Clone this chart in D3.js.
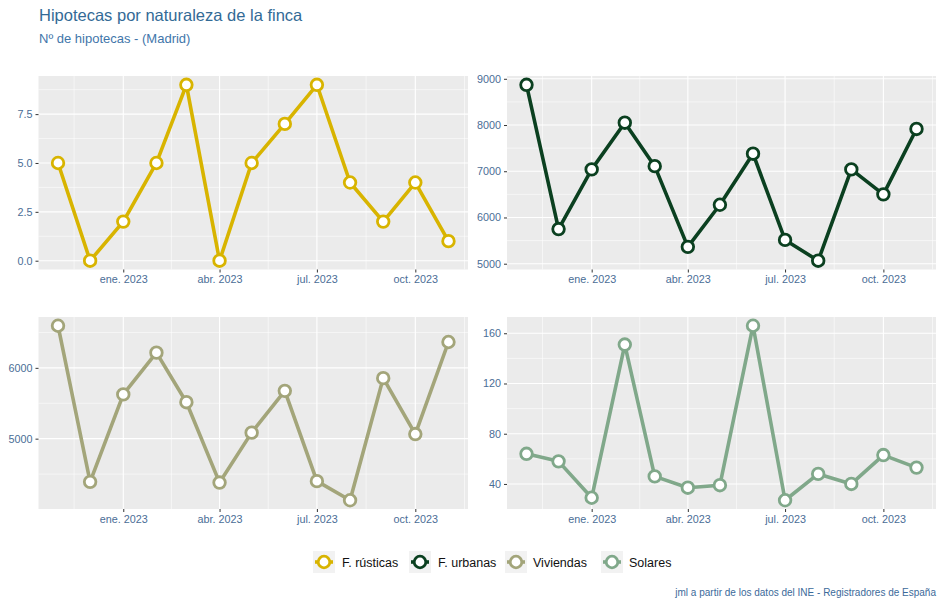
<!DOCTYPE html>
<html><head><meta charset="utf-8">
<script src="https://cdn.jsdelivr.net/npm/d3@7"></script>
<style>body{margin:0;background:#fff;} svg{display:block;font-family:"Liberation Sans",Arial,sans-serif;}</style>
</head><body>
<svg id="c" width="944" height="607"></svg>
<script>
const months = ["2022-11-01","2022-12-01","2023-01-01","2023-02-01","2023-03-01","2023-04-01","2023-05-01","2023-06-01","2023-07-01","2023-08-01","2023-09-01","2023-10-01","2023-11-01"];
const rusticas = [5,0,2,5,9,0,5,7,9,4,2,4,1];
const urbanas  = [8870,5750,7040,8050,7110,5365,6275,7380,5515,5065,7040,6500,7915];
const viviendas= [6595,4390,5625,6215,5515,4380,5085,5675,4400,4130,5855,5065,6365];
const solares  = [64,58,29,151,46,37,39,166,27,48,40,63,53];
const seriesNames = ["F. rústicas","F. urbanas","Viviendas","Solares"];
const seriesColors = ["#d8b400","#0b4020","#a3a57a","#80a88a"];
const xTickDates = ["2023-01-01","2023-04-01","2023-07-01","2023-10-01"];
const xTickLabels = ["ene. 2023","abr. 2023","jul. 2023","oct. 2023"];
const yMajor = [[0,2.5,5,7.5],[5000,6000,7000,8000,9000],[5000,6000],[40,80,120,160]];
const yLabels = [["0.0","2.5","5.0","7.5"],["5000","6000","7000","8000","9000"],["5000","6000"],["40","80","120","160"]];
const yMinor = [[1.25,3.75,6.25,8.75],[5500,6500,7500,8500],[4500,5500,6500],[60,100,140]];

const parse = d3.utcParse("%Y-%m-%d");
const dates = months.map(parse);
const data = [rusticas, urbanas, viviendas, solares];
const svg = d3.select("#c");

const panels = [
  {x0:38.5,x1:468,y0:76,y1:269.5},
  {x0:507,x1:936,y0:76,y1:269.5},
  {x0:38.5,x1:468,y0:317,y1:509},
  {x0:507,x1:936,y0:317,y1:509}
];
const tickColor = "#4a6d96";

// title
svg.append("text").attr("x",39).attr("y",21).attr("font-size",16.5).attr("fill","#336a96").text("Hipotecas por naturaleza de la finca");
svg.append("text").attr("x",39).attr("y",43).attr("font-size",13).attr("fill","#3f76aa").text("Nº de hipotecas - (Madrid)");

const t0 = dates[0].getTime(), t1 = dates[dates.length-1].getTime();
const padT = (t1-t0)*0.05;

panels.forEach((p,i)=>{
  const vals = data[i];
  const mn = d3.min(vals), mx = d3.max(vals), pad=(mx-mn)*0.05;
  const x = d3.scaleUtc().domain([new Date(t0-padT), new Date(t1+padT)]).range([p.x0,p.x1]);
  const y = d3.scaleLinear().domain([mn-pad, mx+pad]).range([p.y1,p.y0]);
  const g = svg.append("g");
  g.append("rect").attr("x",p.x0).attr("y",p.y0).attr("width",p.x1-p.x0).attr("height",p.y1-p.y0).attr("fill","#ebebeb");
  // minor x grid: midpoints of quarters
  const majorX = xTickDates.map(parse);
  const ext = [parse("2022-10-01"), ...majorX, parse("2024-01-01")];
  const minorX = [];
  for(let k=0;k<ext.length-1;k++) minorX.push(new Date((ext[k].getTime()+ext[k+1].getTime())/2));
  const clip = g.append("g");
  minorX.filter(d=>x(d)>p.x0 && x(d)<p.x1).forEach(d=>{
    clip.append("line").attr("x1",x(d)).attr("x2",x(d)).attr("y1",p.y0).attr("y2",p.y1).attr("stroke","#fff").attr("stroke-width",0.55);
  });
  yMinor[i].filter(v=>y(v)>p.y0 && y(v)<p.y1).forEach(v=>{
    clip.append("line").attr("x1",p.x0).attr("x2",p.x1).attr("y1",y(v)).attr("y2",y(v)).attr("stroke","#fff").attr("stroke-width",0.55);
  });
  majorX.forEach(d=>{
    clip.append("line").attr("x1",x(d)).attr("x2",x(d)).attr("y1",p.y0).attr("y2",p.y1).attr("stroke","#fff").attr("stroke-width",1.1);
  });
  yMajor[i].forEach(v=>{
    clip.append("line").attr("x1",p.x0).attr("x2",p.x1).attr("y1",y(v)).attr("y2",y(v)).attr("stroke","#fff").attr("stroke-width",1.1);
  });
  // axes
  const xa = d3.axisBottom(x).tickValues(majorX).tickFormat((d,k)=>xTickLabels[k]).tickSize(3).tickPadding(3);
  const xg = g.append("g").attr("transform",`translate(0,${p.y1})`).call(xa);
  xg.select(".domain").remove();
  xg.selectAll("line").attr("stroke","#333").attr("stroke-width",1);
  xg.selectAll("text").attr("fill",tickColor).attr("font-size",10.8).attr("font-family","Liberation Sans, Arial, sans-serif");
  const ya = d3.axisLeft(y).tickValues(yMajor[i]).tickFormat((d,k)=>yLabels[i][k]).tickSize(3).tickPadding(3);
  const yg = g.append("g").attr("transform",`translate(${p.x0},0)`).call(ya);
  yg.select(".domain").remove();
  yg.selectAll("line").attr("stroke","#333").attr("stroke-width",1);
  yg.selectAll("text").attr("fill",tickColor).attr("font-size",10.8).attr("font-family","Liberation Sans, Arial, sans-serif");
  // line
  const line = d3.line().x((d,k)=>x(dates[k])).y(d=>y(d));
  g.append("path").datum(vals).attr("d",line).attr("fill","none").attr("stroke",seriesColors[i]).attr("stroke-width",3.6).attr("stroke-linejoin","round");
  g.selectAll("circle.pt").data(vals).join("circle").attr("class","pt")
    .attr("cx",(d,k)=>x(dates[k])).attr("cy",d=>y(d)).attr("r",5.8)
    .attr("fill","#fff").attr("stroke",seriesColors[i]).attr("stroke-width",2.8);
});

// legend
const legendItems = [{kx:313,tx:342},{kx:409,tx:438},{kx:505,tx:533},{kx:601,tx:629}];
const ly = 562;
legendItems.forEach((it,i)=>{
  const lg = svg.append("g");
  lg.append("rect").attr("x",it.kx).attr("y",ly-11).attr("width",22).attr("height",22).attr("fill","#f2f2f2");
  lg.append("line").attr("x1",it.kx+2).attr("x2",it.kx+20).attr("y1",ly).attr("y2",ly).attr("stroke",seriesColors[i]).attr("stroke-width",3.6);
  lg.append("circle").attr("cx",it.kx+11).attr("cy",ly).attr("r",5.8).attr("fill","#fff").attr("stroke",seriesColors[i]).attr("stroke-width",2.8);
  lg.append("text").attr("x",it.tx).attr("y",ly+4.5).attr("font-size",12.5).attr("fill","#111").text(seriesNames[i]);
});

// caption
svg.append("text").attr("x",936).attr("y",596).attr("text-anchor","end").attr("font-size",10).attr("fill","#3b6a9a").text("jml a partir de los datos del INE - Registradores de España");
</script>
</body></html>
